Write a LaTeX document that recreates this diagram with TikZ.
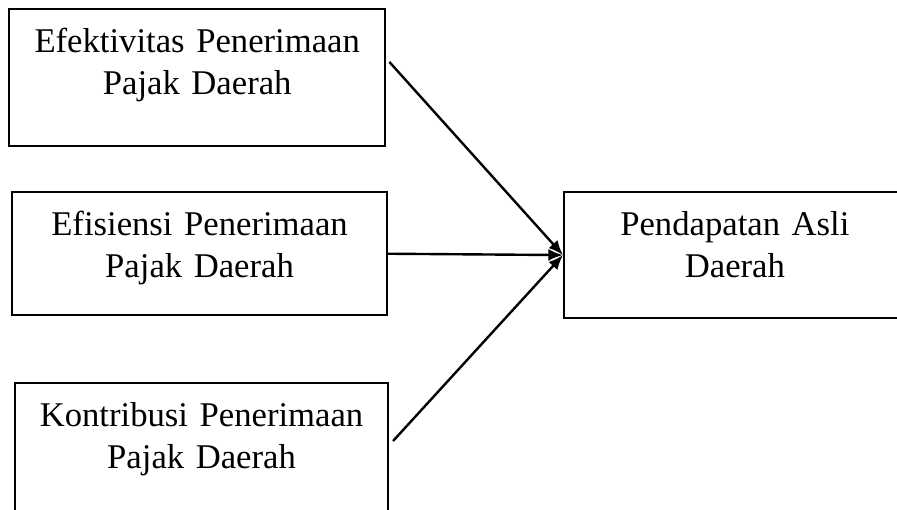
\documentclass[tikz,border=0pt]{standalone}
\usepackage{fontspec}
\setmainfont{Liberation Serif}
\usetikzlibrary{positioning}
\usetikzlibrary{arrows.meta}

\tikzset{
  factor/.style={draw, line width=1.8pt, anchor=north west, inner sep=0pt,
    align=center, text height=32.3pt,
    font=\fontsize{26}{31.5}\selectfont},
  arrow/.style={line width=1.8pt, -{Latex[length=11pt,width=9pt]}}
}

\begin{document}
\begin{tikzpicture}[x=0.75pt, y=-0.75pt]
\useasboundingbox (0,0) rectangle (897,510);
\clip (0,0) rectangle (897,510);
% Boxes
\node [factor, text width=282pt, text depth=70.5pt] (efektif) at (8,8)
  {Efektivitas Penerimaan\\Pajak Daerah};
\node [factor, text width=281pt, text depth=60pt] (efisien) at (11,191)
  {Efisiensi Penerimaan\\Pajak Daerah};
\node [factor, text width=279.5pt, text depth=105pt] (kontrib) at (14,382)
  {Kontribusi Penerimaan\\Pajak Daerah};
\node [factor, text width=256pt, text depth=62pt] (pad) at (563,191)
  {Pendapatan Asli\\Daerah};
% Arrows
\draw [arrow] ([shift={(3,54)}]efektif.north east) -- (pad.west);
\draw [arrow] (efisien.east) -- (pad.west);
\draw [arrow] ([shift={(4,59)}]kontrib.north east) -- (pad.west);
\end{tikzpicture}
\end{document}
